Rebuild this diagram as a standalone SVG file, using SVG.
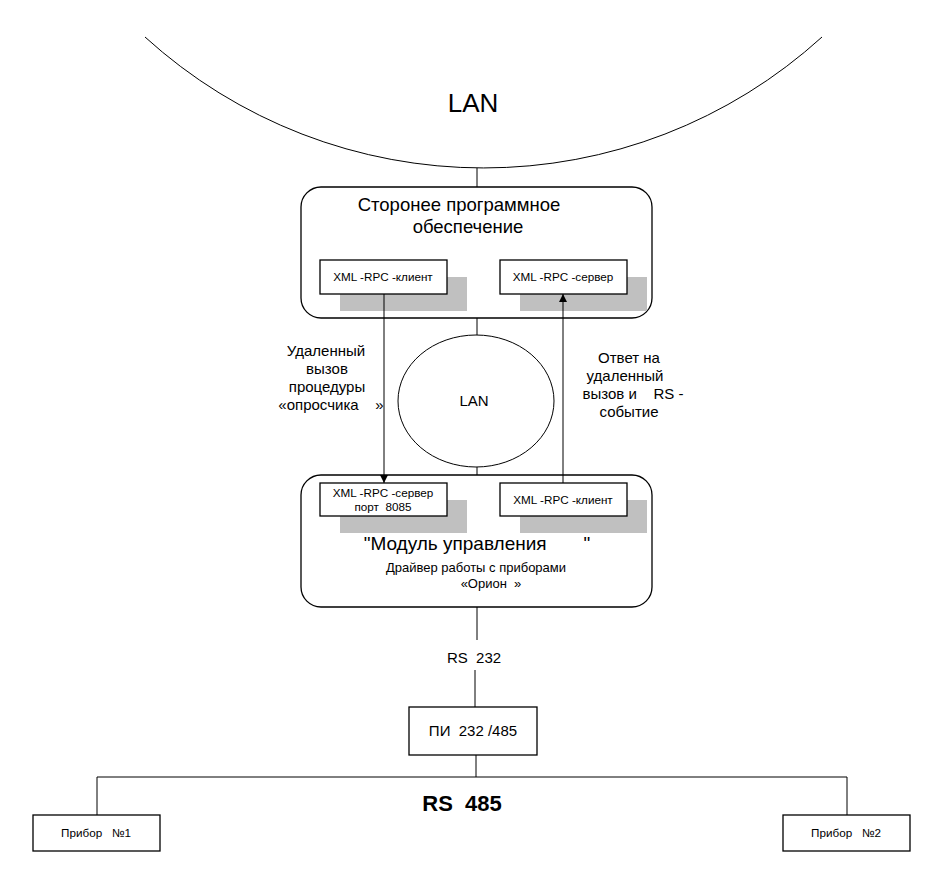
<svg xmlns="http://www.w3.org/2000/svg" width="944" height="875" viewBox="0 0 944 875">
<style>
text{font-family:"Liberation Sans",Arial,sans-serif;fill:#000;text-anchor:middle}
.box{fill:#fff;stroke:#000;stroke-width:1.3}
.shadow{fill:#c0c0c0;stroke:none}
.ln{stroke:#000;stroke-width:1;fill:none}
.s{font-size:11.7px}
.m{font-size:15px}
</style>
<defs>
<marker id="ah" markerWidth="10" markerHeight="10" refX="9" refY="5" orient="auto" markerUnits="userSpaceOnUse" viewBox="0 0 10 10">
<path d="M1,1 L9,5 L1,9 Z" fill="#000"/>
</marker>
</defs>
<rect width="944" height="875" fill="#fff"/>
<g id="lan-top">
<path d="M145,37 A503,503 0 0 0 822,37" class="ln" stroke="#333"/>
<text x="473" y="112" style="font-size:26px">LAN</text>
</g>
<g id="software">
<rect x="301" y="187" width="351" height="131" rx="20" ry="20" class="box"/>
<text x="459" y="211" style="font-size:18.5px">Сторонее программное</text>
<text x="468" y="233" style="font-size:18.5px">обеспечение</text>
</g>
<g id="sw-client">
<rect x="340" y="277" width="127" height="34" class="shadow"/>
<rect x="320" y="260" width="127" height="34" class="box"/>
<text x="383" y="281" class="s">XML -RPC -клиент</text>
</g>
<g id="sw-server">
<rect x="520" y="277" width="127" height="34" class="shadow"/>
<rect x="500" y="260" width="127" height="34" class="box"/>
<text x="563" y="281" class="s">XML -RPC -сервер</text>
</g>
<g id="lan-mid">
<ellipse cx="476" cy="401" rx="78" ry="66" class="ln"/>
<text x="474" y="406" class="m">LAN</text>
</g>
<g id="label-left">
<text x="326" y="356" class="m">Удаленный</text>
<text x="327" y="374" class="m">вызов</text>
<text x="327" y="392" class="m">процедуры</text>
<text x="331" y="410" class="m" xml:space="preserve">«опросчика    »</text>
</g>
<g id="label-right">
<text x="629" y="363" class="m">Ответ на</text>
<text x="625" y="381" class="m">удаленный</text>
<text x="633" y="399" class="m" xml:space="preserve">вызов и    RS -</text>
<text x="629" y="417" class="m">событие</text>
</g>
<g id="module">
<rect x="301" y="475" width="351" height="132" rx="20" ry="20" class="box"/>
<text x="477" y="550" style="font-size:19px" xml:space="preserve">"Модуль управления       "</text>
<text x="476" y="572" style="font-size:13px">Драйвер работы с приборами</text>
<text x="491" y="588" style="font-size:13px" xml:space="preserve">«Орион  »</text>
</g>
<g id="mod-server">
<rect x="340" y="500" width="127" height="33" class="shadow"/>
<rect x="320" y="483" width="127" height="33" class="box"/>
<text x="383" y="497" class="s">XML -RPC -сервер</text>
<text x="383" y="511" class="s" xml:space="preserve">порт  8085</text>
</g>
<g id="mod-client">
<rect x="520" y="500" width="127" height="33" class="shadow"/>
<rect x="500" y="483" width="127" height="33" class="box"/>
<text x="563" y="504" class="s">XML -RPC -клиент</text>
</g>
<text x="474" y="663" class="m" xml:space="preserve">RS  232</text>
<g id="converter">
<rect x="409" y="707" width="128" height="48" class="box"/>
<text x="473" y="736" class="m" xml:space="preserve">ПИ  232 /485</text>
</g>
<text x="462" y="811" style="font-size:22px;font-weight:bold" xml:space="preserve">RS  485</text>
<g id="device1">
<rect x="33" y="815" width="127" height="36" class="box"/>
<text x="96" y="837" class="s" xml:space="preserve">Прибор   №1</text>
</g>
<g id="device2">
<rect x="783" y="815" width="127" height="36" class="box"/>
<text x="846" y="837" class="s" xml:space="preserve">Прибор   №2</text>
</g>
<g id="connectors">
<line x1="477" y1="168" x2="477" y2="187" class="ln"/>
<line x1="477" y1="318" x2="477" y2="335" class="ln"/>
<line x1="477" y1="467" x2="477" y2="475" class="ln"/>
<line x1="384" y1="294" x2="384" y2="483" class="ln" marker-end="url(#ah)"/>
<line x1="563" y1="483" x2="563" y2="294" class="ln" marker-end="url(#ah)"/>
<line x1="477" y1="607" x2="477" y2="640" class="ln"/>
<line x1="475" y1="670" x2="475" y2="707" class="ln"/>
<line x1="476" y1="755" x2="476" y2="777" class="ln"/>
<line x1="97" y1="777" x2="847" y2="777" class="ln" stroke-width="1.3"/>
<line x1="97" y1="777" x2="97" y2="815" class="ln"/>
<line x1="847" y1="777" x2="847" y2="815" class="ln"/>
</g>
</svg>
